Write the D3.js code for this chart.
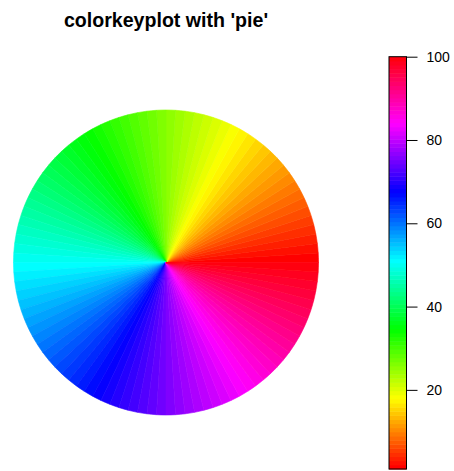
<!DOCTYPE html>
<html>
<head>
<meta charset="utf-8">
<script src="https://cdn.jsdelivr.net/npm/d3@7"></script>
<style>
  body { margin: 0; background: #fff; }
  svg { display: block; font-family: "Liberation Sans", Arial, sans-serif; }
</style>
</head>
<body>
<div id="app"></div>
<script>
// z levels shown in the pie (one equal slice each) and in the key
const zLevels = [
  1, 2, 3, 4, 5, 6, 7, 8, 9, 10, 11, 12, 13, 14, 15, 16, 17, 18, 19, 20,
  21, 22, 23, 24, 25, 26, 27, 28, 29, 30, 31, 32, 33, 34, 35, 36, 37, 38, 39, 40,
  41, 42, 43, 44, 45, 46, 47, 48, 49, 50, 51, 52, 53, 54, 55, 56, 57, 58, 59, 60,
  61, 62, 63, 64, 65, 66, 67, 68, 69, 70, 71, 72, 73, 74, 75, 76, 77, 78, 79, 80,
  81, 82, 83, 84, 85, 86, 87, 88, 89, 90, 91, 92, 93, 94, 95, 96, 97, 98, 99, 100
];
const keyTicks = [20, 40, 60, 80, 100];
const titleText = "colorkeyplot with 'pie'";

const width = 454, height = 471;

const svg = d3.select("#app").append("svg")
    .attr("width", width)
    .attr("height", height)
    .attr("viewBox", [0, 0, width, height]);

// rainbow like R's rainbow(n): hue 0 .. 360*(n-1)/n
const hue = d3.scaleLinear()
    .domain([1, 100])
    .range([0, 360 * 99 / 100]);
const color = v => d3.hsl(hue(v), 1, 0.5).formatHex();

// title
svg.append("text")
    .attr("x", 166)
    .attr("y", 27)
    .attr("text-anchor", "middle")
    .attr("font-weight", "bold")
    .attr("font-size", 19.6)
    .attr("fill", "#000")
    .text(titleText);

// pie, counterclockwise from 3 o'clock
const cx = 166, cy = 262.5, r = 152.5;
const pie = d3.pie()
    .value(() => 1)
    .sort(null)
    .startAngle(Math.PI / 2)
    .endAngle(Math.PI / 2 - 2 * Math.PI);
const arc = d3.arc().innerRadius(0).outerRadius(r);

svg.append("g")
    .attr("transform", `translate(${cx},${cy})`)
  .selectAll("path")
  .data(pie(zLevels))
  .join("path")
    .attr("d", arc)
    .attr("fill", d => color(d.data))
    .attr("stroke", d => color(d.data))
    .attr("stroke-width", 0.6);

// color key
const keyX = 389, keyW = 17.5;
const y = d3.scaleLinear()
    .domain([1, 100])
    .range([469, 56.7]);
const step = (y(1) - y(100)) / zLevels.length;

const key = svg.append("g");
key.selectAll("rect")
  .data(zLevels)
  .join("rect")
    .attr("x", keyX)
    .attr("width", keyW)
    .attr("y", (d, i) => y(1) - (i + 1) * step)
    .attr("height", step + 0.5)
    .attr("fill", d => color(d));

key.append("rect")
    .attr("x", keyX)
    .attr("y", y(100))
    .attr("width", keyW)
    .attr("height", y(1) - y(100))
    .attr("fill", "none")
    .attr("stroke", "#000")
    .attr("stroke-width", 1);

const axis = d3.axisRight(y)
    .tickValues(keyTicks)
    .tickSize(11)
    .tickPadding(9)
    .tickFormat(d3.format("d"));

const ax = svg.append("g")
    .attr("transform", `translate(${keyX + keyW},0)`)
    .call(axis);
ax.select(".domain").remove();
ax.selectAll(".tick line").attr("stroke", "#000");
ax.selectAll(".tick text")
    .attr("font-size", 14)
    .attr("font-family", "Liberation Sans, Arial, sans-serif")
    .attr("fill", "#000");
</script>
</body>
</html>
